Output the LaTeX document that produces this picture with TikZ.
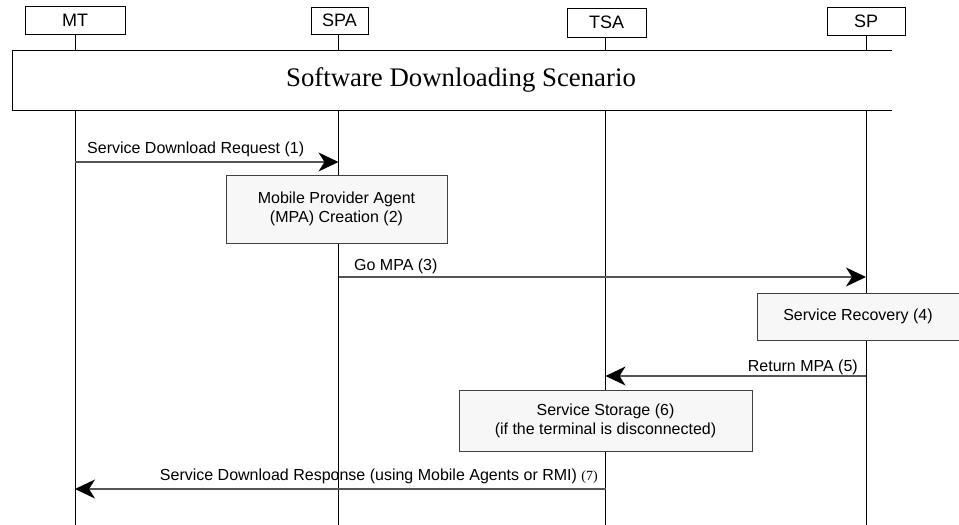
\documentclass[tikz,border=0pt]{standalone}
\usepackage{fontspec}
\setmainfont{Liberation Sans}
\newfontfamily\titlefont{Liberation Serif}
\usetikzlibrary{arrows.meta}
\definecolor{boxfill}{HTML}{F7F7F7}
\definecolor{boxline}{HTML}{404040}
\definecolor{msgline}{HTML}{555555}
\begin{document}
\begin{tikzpicture}[x=1pt,y=-1pt,
  every node/.style={font=\fontsize{16}{19}\selectfont, inner sep=0pt},
  head/.style={draw=black, line width=0.9pt, fill=white, font=\fontsize{18}{20}\selectfont},
  life/.style={draw=black, line width=0.9pt},
  actbox/.style={draw=boxline, line width=1pt, fill=boxfill, align=center},
  msg/.style={draw=msgline, line width=1.4pt, -{Stealth[length=20pt,width=19pt,inset=6pt,color=black]}},
  lbl/.style={text=black}
]
\useasboundingbox (0,0) rectangle (959,525);
% heads
\node[head, minimum width=100pt, minimum height=28pt] (MT) at (75,20) {MT};
\node[head, minimum width=57pt, minimum height=27pt] (SPA) at (339.5,20.5) {SPA};
\node[head, minimum width=79pt, minimum height=29pt] (TSA) at (606.5,22.5) {TSA};
\node[head, minimum width=78pt, minimum height=28pt] (SP) at (866,21) {SP};
% lifeline ends
\coordinate (MTend) at (75,525);
\coordinate (SPAend) at (338.5,525);
\coordinate (TSAend) at (605.5,525);
\coordinate (SPend) at (866,525);
\draw[life] (MT.south) -- (MTend);
\draw[life] (SPA.south -| SPAend) -- (SPAend);
\draw[life] (TSA.south -| TSAend) -- (TSAend);
\draw[life] (SP.south) -- (SPend);
% scenario frame
\fill[white] (12,50) rectangle (892,110);
\coordinate (fr1) at (892,50);
\coordinate (fr2) at (12,50);
\coordinate (fr3) at (12,110);
\coordinate (fr4) at (892,110);
\draw[line width=1pt] (fr1) -- (fr2) -- (fr3) -- (fr4);
\node[font=\titlefont\fontsize{26.8}{30}\selectfont, anchor=base] (title) at (461,86) {Software Downloading Scenario};
% message 1
\coordinate (m1a) at (75,162);
\coordinate (m1b) at (338.5,162);
\draw[msg] (m1a) -- (m1b);
\node[lbl, anchor=base west] (l1) at (87,153) {Service Download Request (1)};
% activity 2
\node[actbox, minimum width=221pt, minimum height=68pt] (A2) at (336.5,209) {Mobile Provider Agent\\(MPA) Creation (2)};
% message 3
\coordinate (m3a) at (338.5,277);
\coordinate (m3b) at (866,277);
\draw[msg] (m3a) -- (m3b);
\node[lbl, anchor=base west] (l3) at (354,270) {Go MPA (3)};
% activity 4
\node[actbox, minimum width=202pt, minimum height=47pt] (A4) at (858,316.5) {Service Recovery (4)};
% message 5
\coordinate (m5a) at (866,376);
\coordinate (m5b) at (605.5,376);
\draw[msg] (m5a) -- (m5b);
\node[lbl, anchor=base east] (l5) at (858,371) {Return MPA (5)};
% activity 6
\node[actbox, minimum width=293pt, minimum height=61pt] (A6) at (605.5,420.5) {Service Storage (6)\\(if the terminal is disconnected)};
% message 7
\coordinate (m7a) at (605.5,489);
\coordinate (m7b) at (75,489);
\draw[msg] (m7a) -- (m7b);
\node[lbl, anchor=base east] (l7) at (598,480) {Service Download Response (using Mobile Agents or RMI) {\titlefont\fontsize{14}{16}\selectfont(7)}};
\end{tikzpicture}
\end{document}
